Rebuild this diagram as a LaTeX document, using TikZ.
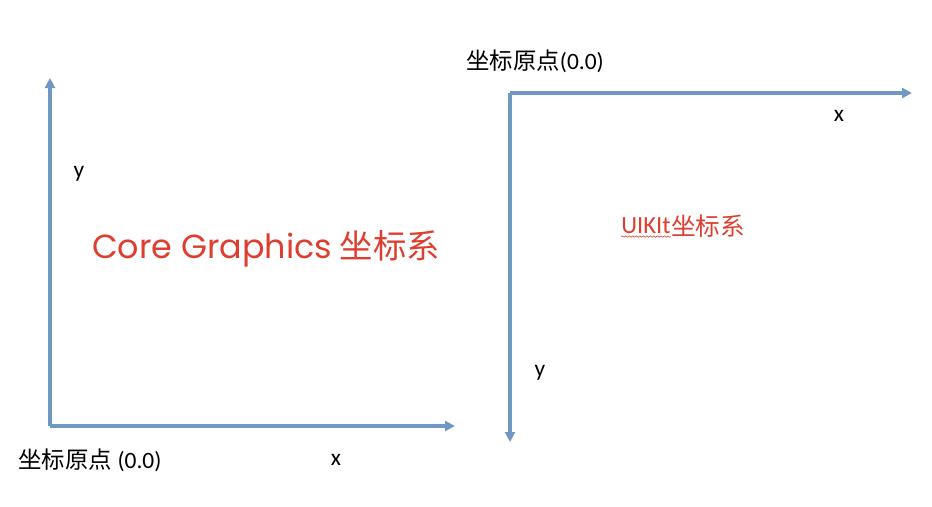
\documentclass[tikz,border=0pt]{standalone}
\usepackage{fontspec}
\setmainfont{Carlito}
\newfontfamily\cjk{Noto Sans CJK SC}
\newfontfamily\geo{Poppins}
\usetikzlibrary{arrows.meta,positioning,decorations.pathmorphing}
\definecolor{axisblue}{RGB}{112,152,196}
\definecolor{titlered}{RGB}{222,62,48}

\begin{document}
\begin{tikzpicture}[x=0.03cm,y=-0.03cm,font=\fontsize{20}{24}\selectfont]
\useasboundingbox (0,0) rectangle (932,506);
% Core Graphics axes
\coordinate (cgO) at (50,426);
\coordinate (cgY) at (50,78);
\coordinate (cgX) at (455,426);
\draw[-{Triangle[length=3mm,width=3mm]},line width=2.8pt,axisblue] (cgO) -- (cgY);
\draw[-{Triangle[length=3mm,width=3mm]},line width=2.8pt,axisblue] (cgO) -- (cgX);
\node (cgy) at (79,174) {y};
\node (cgx) at (336,460) {x};
\node (cgorigin) at (90,460) {{\cjk 坐标原点} (0.0)};
\node[text=titlered,font=\fontsize{28.5}{32}\selectfont] (cgtitle) at (266,249) {{\geo Core Graphics} {\cjk 坐标系}};
% UIKit axes
\coordinate (uiO) at (510,93);
\coordinate (uiX) at (912,93);
\coordinate (uiY) at (510,442);
\draw[-{Triangle[length=3mm,width=3mm]},line width=2.8pt,axisblue] (uiO) -- (uiX);
\draw[-{Triangle[length=3mm,width=3mm]},line width=2.8pt,axisblue] (uiO) -- (uiY);
\node (uix) at (839,116) {x};
\node (uiy) at (540,373) {y};
\node (uiorigin) at (535,61) {{\cjk 坐标原点}(0.0)};
\node[text=titlered,inner sep=0pt,font=\fontsize{21}{24}\selectfont] (uiname) at (646,226) {UIKIt};
\node[text=titlered,inner sep=0pt,right=0pt of uiname,font=\cjk\fontsize{21}{24}\selectfont] (uititle) {坐标系};
\draw[titlered,line width=0.5pt,decorate,decoration={snake,amplitude=0.6pt,segment length=3pt}]
  ([yshift=-2pt]uiname.south west) -- ([yshift=-2pt]uiname.south east);
\end{tikzpicture}
\end{document}
